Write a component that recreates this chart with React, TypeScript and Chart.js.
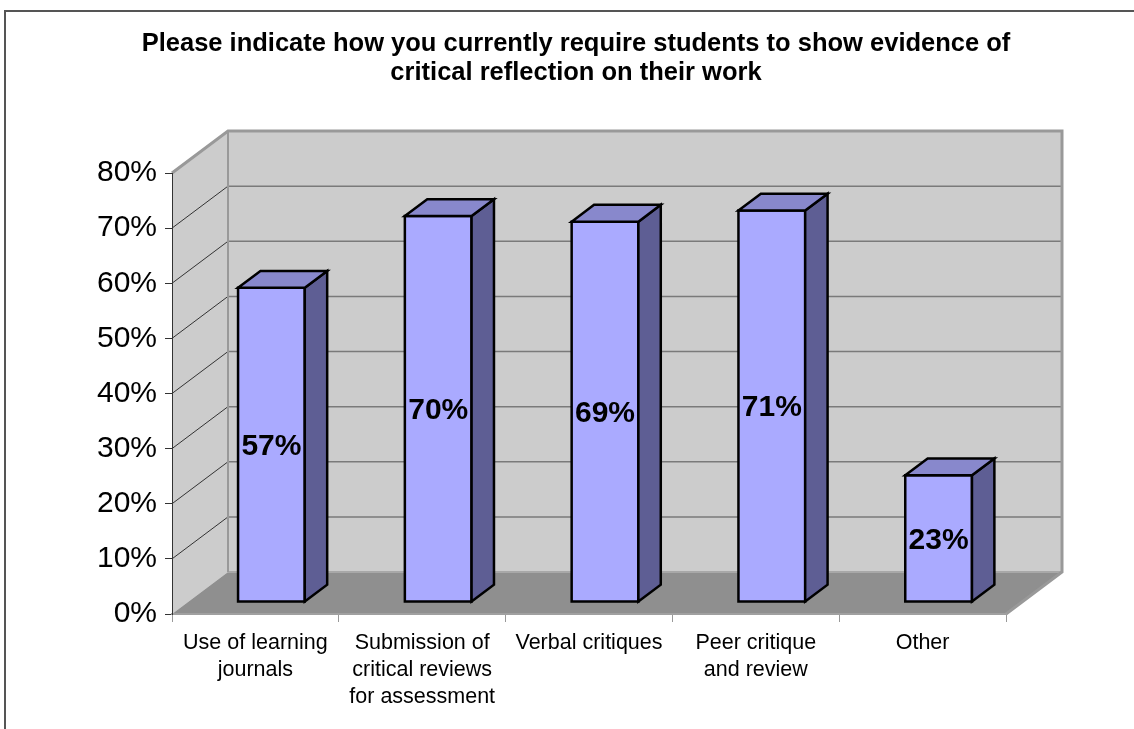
import React, { useEffect, useRef } from 'react';
import { Chart, registerables } from 'chart.js';

Chart.register(...registerables);

const TITLE_LINES = [
  'Please indicate how you currently require students to show evidence of',
  'critical reflection on their work',
];
const CATEGORIES = [
  ['Use of learning', 'journals'],
  ['Submission of', 'critical reviews', 'for assessment'],
  ['Verbal critiques'],
  ['Peer critique', 'and review'],
  ['Other'],
];
const VALUES = [57, 70, 69, 71, 23];
const Y_MIN = 0;
const Y_MAX = 80;
const Y_STEP = 10;

const FONT = '"Liberation Sans", Arial, Helvetica, sans-serif';
// 3D depth of the plot box (pixels) and bar placement along the depth
const DX = 56;
const DY = 42;
const BAR_FRONT = 0.286;
const BAR_BACK = 0.686;

const threeD = {
  id: 'threeD',
  beforeDraw(chart: any) {
    const { ctx, chartArea: a, scales } = chart;
    const ys = scales.y;
    ctx.save();
    // outer frame
    ctx.strokeStyle = '#555555';
    ctx.lineWidth = 2;
    ctx.beginPath();
    ctx.moveTo(5, chart.height + 5);
    ctx.lineTo(5, 11);
    ctx.lineTo(chart.width + 5, 11);
    ctx.stroke();

    // side wall
    ctx.fillStyle = '#CCCCCC';
    ctx.beginPath();
    ctx.moveTo(a.left, a.top);
    ctx.lineTo(a.left + DX, a.top - DY);
    ctx.lineTo(a.left + DX, a.bottom - DY);
    ctx.lineTo(a.left, a.bottom);
    ctx.closePath();
    ctx.fill();
    // back wall
    ctx.fillRect(a.left + DX, a.top - DY, a.right - a.left, a.bottom - a.top);
    // floor
    ctx.fillStyle = '#8F8F8F';
    ctx.beginPath();
    ctx.moveTo(a.left, a.bottom);
    ctx.lineTo(a.right, a.bottom);
    ctx.lineTo(a.right + DX, a.bottom - DY);
    ctx.lineTo(a.left + DX, a.bottom - DY);
    ctx.closePath();
    ctx.fill();

    // gridlines
    ys.ticks.forEach((t: any) => {
      if (t.value <= ys.min || t.value >= ys.max) return;
      const py = ys.getPixelForValue(t.value);
      ctx.strokeStyle = '#7A7A7A';
      ctx.lineWidth = 1.5;
      ctx.beginPath();
      ctx.moveTo(a.left + DX, py - DY);
      ctx.lineTo(a.right + DX, py - DY);
      ctx.stroke();
      ctx.strokeStyle = '#333333';
      ctx.lineWidth = 1;
      ctx.beginPath();
      ctx.moveTo(a.left, py);
      ctx.lineTo(a.left + DX, py - DY);
      ctx.stroke();
    });

    // edges
    ctx.strokeStyle = '#A8A8A8';
    ctx.lineWidth = 2;
    ctx.beginPath();
    ctx.moveTo(a.left + DX, a.bottom - DY);
    ctx.lineTo(a.right + DX, a.bottom - DY);
    ctx.stroke();
    ctx.strokeStyle = '#999999';
    ctx.lineWidth = 2;
    ctx.beginPath();
    ctx.moveTo(a.left + DX, a.top - DY);
    ctx.lineTo(a.left + DX, a.bottom - DY);
    ctx.stroke();
    ctx.lineWidth = 3;
    ctx.beginPath();
    ctx.moveTo(a.left, a.top);
    ctx.lineTo(a.left + DX, a.top - DY);
    ctx.lineTo(a.right + DX, a.top - DY);
    ctx.lineTo(a.right + DX, a.bottom - DY);
    ctx.lineTo(a.right, a.bottom);
    ctx.stroke();
    ctx.restore();
  },
  afterDatasetsDraw(chart: any) {
    const { ctx } = chart;
    const meta = chart.getDatasetMeta(0);
    const fx = DX * BAR_FRONT;
    const fy = DY * BAR_FRONT;
    const bdx = DX * (BAR_BACK - BAR_FRONT);
    const bdy = DY * (BAR_BACK - BAR_FRONT);
    ctx.save();
    ctx.lineWidth = 2.5;
    ctx.strokeStyle = '#000000';
    ctx.lineJoin = 'miter';
    meta.data.forEach((el: any, i: number) => {
      const { x, y, base, width } = el.getProps(['x', 'y', 'base', 'width'], true);
      const l = x - width / 2 + fx;
      const r = x + width / 2 + fx;
      const t = y - fy;
      const b = base - fy;
      // front
      ctx.fillStyle = '#AAAAFF';
      ctx.beginPath();
      ctx.rect(l, t, r - l, b - t);
      ctx.fill();
      ctx.stroke();
      // side
      ctx.fillStyle = '#5E5E94';
      ctx.beginPath();
      ctx.moveTo(r, t);
      ctx.lineTo(r + bdx, t - bdy);
      ctx.lineTo(r + bdx, b - bdy);
      ctx.lineTo(r, b);
      ctx.closePath();
      ctx.fill();
      ctx.stroke();
      // top
      ctx.fillStyle = '#8888CC';
      ctx.beginPath();
      ctx.moveTo(l, t);
      ctx.lineTo(l + bdx, t - bdy);
      ctx.lineTo(r + bdx, t - bdy);
      ctx.lineTo(r, t);
      ctx.closePath();
      ctx.fill();
      ctx.stroke();
      // value label
      ctx.fillStyle = '#000000';
      ctx.font = `bold 30px ${FONT}`;
      ctx.textAlign = 'center';
      ctx.textBaseline = 'middle';
      ctx.fillText(`${VALUES[i]}%`, (l + r) / 2, (t + b) / 2 + 2);
    });
    ctx.restore();
  },
};

export default function App() {
  const ref = useRef<HTMLCanvasElement | null>(null);
  useEffect(() => {
    document.body.style.margin = '0';
    const canvas = ref.current;
    if (!canvas) return;
    const chart = new Chart(canvas, {
      type: 'bar',
      data: {
        labels: CATEGORIES,
        datasets: [
          {
            data: VALUES,
            backgroundColor: 'rgba(0,0,0,0)',
            borderWidth: 0,
            barPercentage: 0.4,
            categoryPercentage: 1.0,
            yAxisID: 'y',
          },
        ],
      },
      options: {
        responsive: false,
        animation: false,
        layout: { padding: { left: 18, right: 0, top: 0, bottom: 0 } },
        plugins: {
          legend: { display: false },
          tooltip: { enabled: false },
          title: {
            display: true,
            text: TITLE_LINES,
            color: '#000000',
            font: { family: FONT, size: 25.5, weight: 'bold', lineHeight: '29px' },
            padding: { top: 29, bottom: 86 },
          },
        },
        scales: {
          x: {
            grid: {
              display: true,
              drawOnChartArea: false,
              drawTicks: true,
              tickLength: 8,
              color: '#999999',
              offset: true,
            },
            border: { display: true, color: '#A0A0A0', width: 2 },
            ticks: {
              color: '#000000',
              font: { family: FONT, size: 21.5, lineHeight: 1.24 },
              padding: 8,
              autoSkip: false,
              maxRotation: 0,
            },
            afterFit(scale: any) {
              scale.height = 115;
            },
          },
          y: {
            min: Y_MIN,
            max: Y_MAX,
            position: 'left',
            grid: {
              display: true,
              drawOnChartArea: false,
              drawTicks: true,
              tickLength: 7,
              color: '#333333',
            },
            border: { display: true, color: '#333333', width: 1 },
            ticks: {
              stepSize: Y_STEP,
              color: '#000000',
              font: { family: FONT, size: 30 },
              padding: 8,
              callback: (v: any) => `${v}%`,
            },
            afterFit(scale: any) {
              scale.width = 154;
            },
          },
          spacer: {
            type: 'linear',
            position: 'right',
            display: true,
            grid: { display: false, drawTicks: false },
            border: { display: false },
            ticks: { display: false },
            afterFit(scale: any) {
              scale.width = 128;
            },
          },
        },
      },
      plugins: [threeD],
    });
    return () => chart.destroy();
  }, []);
  return (
    <div style={{ width: 1134, height: 729, position: 'relative', background: '#ffffff' }}>
      <canvas ref={ref} width={1134} height={729} style={{ display: 'block' }} />
    </div>
  );
}
